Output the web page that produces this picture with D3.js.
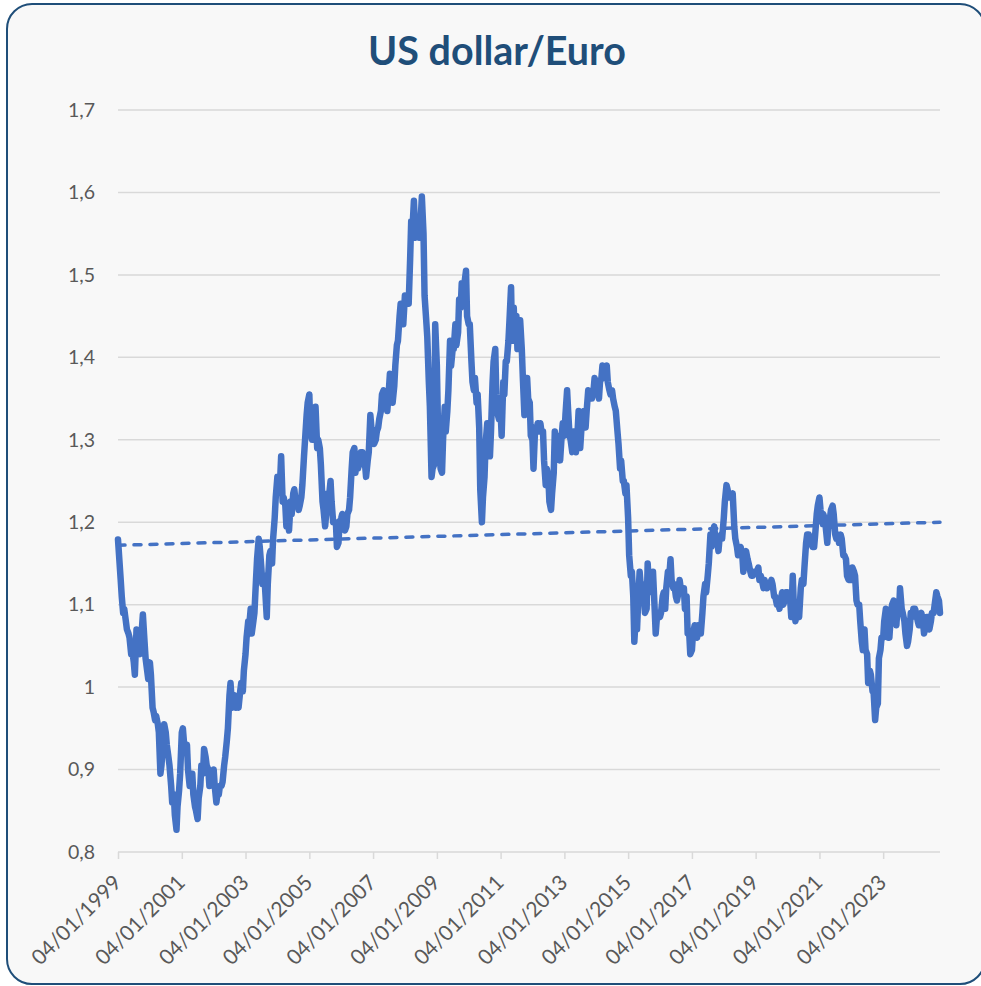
<!DOCTYPE html>
<html>
<head>
<meta charset="utf-8">
<script src="https://cdn.jsdelivr.net/npm/d3@7"></script>
<style>
  html, body { margin: 0; padding: 0; background: #ffffff; }
  svg { display: block; }
</style>
</head>
<body>
<svg id="chart" width="981" height="986"></svg>
<script>
// ---- DATA (USD per EUR, two readings per month: ~4th and ~16th) ----
const title = "US dollar/Euro";
const firstYear = 1999;
const rate = [
  // 1999
  1.179,1.160,1.130,1.110,1.090,1.095,1.080,1.070,1.065,1.060,1.040,1.045,
  1.030,1.015,1.070,1.060,1.050,1.040,1.070,1.088,1.055,1.035,1.020,1.010,
  // 2000
  1.030,1.015,0.975,0.970,0.960,0.965,0.955,0.945,0.895,0.905,0.935,0.955,
  0.945,0.930,0.915,0.905,0.880,0.860,0.870,0.845,0.827,0.855,0.875,0.895,
  // 2001
  0.945,0.950,0.925,0.920,0.930,0.900,0.880,0.895,0.895,0.870,0.855,0.850,
  0.840,0.865,0.880,0.905,0.895,0.925,0.915,0.905,0.900,0.880,0.890,0.895,
  // 2002
  0.900,0.880,0.860,0.870,0.870,0.880,0.880,0.885,0.905,0.915,0.935,0.950,
  0.990,1.005,0.975,0.980,0.990,0.975,0.980,0.975,0.995,1.005,0.995,1.020,
  // 2003
  1.040,1.060,1.080,1.075,1.095,1.065,1.080,1.090,1.130,1.155,1.180,1.170,
  1.145,1.125,1.135,1.120,1.085,1.125,1.160,1.165,1.150,1.180,1.205,1.230,
  // 2004
  1.255,1.245,1.250,1.280,1.225,1.230,1.220,1.195,1.200,1.190,1.225,1.210,
  1.235,1.240,1.220,1.230,1.215,1.220,1.230,1.245,1.280,1.300,1.330,1.345,
  // 2005
  1.355,1.310,1.300,1.300,1.320,1.340,1.290,1.300,1.290,1.270,1.225,1.215,
  1.195,1.210,1.235,1.230,1.250,1.225,1.200,1.200,1.200,1.170,1.175,1.200,
  // 2006
  1.205,1.210,1.205,1.190,1.195,1.210,1.215,1.230,1.265,1.285,1.290,1.260,
  1.280,1.265,1.280,1.285,1.285,1.270,1.270,1.255,1.275,1.285,1.330,1.315,
  // 2007
  1.310,1.295,1.300,1.310,1.315,1.325,1.335,1.355,1.360,1.350,1.350,1.335,
  1.360,1.380,1.370,1.345,1.365,1.390,1.415,1.420,1.450,1.465,1.465,1.440,
  // 2008
  1.475,1.470,1.475,1.465,1.520,1.565,1.565,1.590,1.545,1.550,1.550,1.545,
  1.570,1.595,1.550,1.475,1.445,1.425,1.370,1.340,1.255,1.265,1.270,1.440,
  // 2009
  1.390,1.320,1.280,1.265,1.260,1.300,1.340,1.310,1.335,1.360,1.420,1.390,
  1.410,1.410,1.440,1.415,1.430,1.470,1.460,1.490,1.480,1.490,1.505,1.450,
  // 2010
  1.440,1.440,1.395,1.370,1.360,1.375,1.345,1.355,1.315,1.240,1.200,1.230,
  1.255,1.295,1.320,1.280,1.280,1.310,1.370,1.395,1.410,1.355,1.330,1.325,
  // 2011
  1.335,1.305,1.370,1.355,1.395,1.395,1.420,1.445,1.485,1.420,1.460,1.420,
  1.450,1.410,1.425,1.445,1.410,1.375,1.330,1.375,1.375,1.350,1.345,1.305,
  // 2012
  1.300,1.265,1.315,1.310,1.320,1.310,1.320,1.310,1.310,1.275,1.245,1.265,
  1.255,1.225,1.215,1.235,1.260,1.310,1.295,1.305,1.285,1.275,1.305,1.320,
  // 2013
  1.305,1.330,1.360,1.335,1.305,1.300,1.285,1.310,1.310,1.285,1.310,1.335,
  1.290,1.310,1.325,1.335,1.315,1.335,1.360,1.355,1.350,1.350,1.360,1.375,
  // 2014
  1.365,1.365,1.350,1.370,1.375,1.390,1.375,1.385,1.390,1.370,1.360,1.355,
  1.360,1.350,1.340,1.335,1.310,1.295,1.265,1.275,1.250,1.250,1.235,1.245,
  // 2015
  1.205,1.160,1.135,1.140,1.110,1.055,1.090,1.070,1.115,1.140,1.115,1.125,
  1.110,1.090,1.095,1.150,1.115,1.130,1.120,1.140,1.095,1.065,1.090,1.090,
  // 2016
  1.085,1.090,1.110,1.115,1.095,1.120,1.140,1.130,1.155,1.130,1.120,1.125,
  1.110,1.105,1.115,1.130,1.115,1.120,1.120,1.095,1.110,1.065,1.065,1.040,
  // 2017
  1.045,1.065,1.075,1.065,1.060,1.075,1.065,1.065,1.090,1.110,1.125,1.115,
  1.135,1.150,1.185,1.170,1.190,1.195,1.175,1.180,1.165,1.180,1.185,1.180,
  // 2018
  1.205,1.225,1.245,1.240,1.230,1.235,1.230,1.235,1.195,1.180,1.170,1.160,
  1.165,1.170,1.160,1.140,1.160,1.165,1.155,1.150,1.140,1.135,1.135,1.140,
  // 2019
  1.140,1.140,1.145,1.130,1.135,1.130,1.120,1.130,1.120,1.120,1.125,1.125,
  1.130,1.125,1.110,1.110,1.100,1.105,1.095,1.105,1.115,1.100,1.105,1.115,
  // 2020
  1.115,1.110,1.105,1.085,1.135,1.100,1.080,1.090,1.090,1.085,1.120,1.130,
  1.125,1.145,1.175,1.185,1.185,1.180,1.175,1.170,1.170,1.185,1.210,1.220,
  // 2021
  1.230,1.215,1.200,1.210,1.205,1.195,1.175,1.195,1.205,1.215,1.220,1.210,
  1.185,1.180,1.185,1.175,1.185,1.180,1.160,1.160,1.155,1.135,1.130,1.130,
  // 2022
  1.130,1.145,1.140,1.135,1.105,1.100,1.100,1.080,1.055,1.045,1.070,1.045,
  1.040,1.005,1.020,1.015,0.995,0.995,0.960,0.975,0.980,1.035,1.045,1.060,
  // 2023
  1.060,1.080,1.095,1.070,1.060,1.060,1.090,1.100,1.105,1.085,1.075,1.095,
  1.090,1.120,1.095,1.090,1.080,1.065,1.050,1.055,1.070,1.090,1.085,1.095,
  // 2024 (Jan - Oct)
  1.095,1.090,1.080,1.075,1.085,1.090,1.080,1.065,1.075,1.085,1.085,1.070,
  1.080,1.090,1.090,1.100,1.115,1.110,1.105,1.090
];
// linear trend end values (start, end)
const trend = [1.172, 1.200];
const yTicks = [0.8, 0.9, 1.0, 1.1, 1.2, 1.3, 1.4, 1.5, 1.6, 1.7];
const xTickYears = [1999, 2001, 2003, 2005, 2007, 2009, 2011, 2013, 2015, 2017, 2019, 2021, 2023];

// ---- CHART ----
const svg = d3.select("#chart");
const plot = { left: 118, right: 940, top: 110, bottom: 852 };
const lineColor = "#4472c4";
const textColor = "#595959";
const gridColor = "#d9d9d9";
const font = "Lato, 'Open Sans', sans-serif";

// frame
svg.append("rect")
  .attr("x", 7).attr("y", 4)
  .attr("width", 978).attr("height", 980)
  .attr("rx", 25).attr("ry", 25)
  .attr("fill", "#f8f8f8")
  .attr("stroke", "#1f4e79")
  .attr("stroke-width", 2);

const data = rate.map((v, i) => ({
  date: new Date(firstYear, Math.floor(i / 2), i % 2 ? 16 : 4),
  value: v
}));

const x = d3.scaleTime()
  .domain([data[0].date, data[data.length - 1].date])
  .range([plot.left, plot.right]);
const y = d3.scaleLinear()
  .domain([0.8, 1.7])
  .range([plot.bottom, plot.top]);

// gridlines
svg.append("g")
  .selectAll("line")
  .data(yTicks.filter(t => t > 0.8))
  .join("line")
  .attr("x1", plot.left).attr("x2", plot.right)
  .attr("y1", d => y(d)).attr("y2", d => y(d))
  .attr("stroke", gridColor).attr("stroke-width", 1.5);

// y axis labels
const fmtY = d => d3.format(".1~f")(d).replace(".", ",");
svg.append("g")
  .selectAll("text")
  .data(yTicks)
  .join("text")
  .attr("x", 95)
  .attr("y", d => y(d))
  .attr("dy", "0.35em")
  .attr("text-anchor", "end")
  .attr("font-family", font)
  .attr("font-size", 19.5)
  .attr("fill", textColor)
  .text(fmtY);

// x axis
const xTicks = xTickYears.map(yr => new Date(yr, 0, 4));
const fmtX = d3.timeFormat("%d/%m/%Y");
const xAxis = d3.axisBottom(x)
  .tickValues(xTicks)
  .tickSize(7)
  .tickPadding(6)
  .tickFormat(fmtX)
  .tickSizeOuter(0);
const gx = svg.append("g")
  .attr("transform", `translate(0,${plot.bottom})`)
  .call(xAxis);
gx.select(".domain").attr("stroke", gridColor).attr("stroke-width", 1.5)
  .attr("d", `M${plot.left},0H${plot.right}`);
gx.selectAll(".tick line").attr("stroke", gridColor).attr("stroke-width", 1.5);
gx.selectAll(".tick text")
  .attr("font-family", font)
  .attr("font-size", 21)
  .attr("fill", textColor)
  .attr("text-anchor", "end")
  .attr("x", 0)
  .attr("y", 0)
  .attr("dy", "0")
  .attr("transform", "translate(4,32) rotate(-45)");

// trend line (dashed)
svg.append("line")
  .attr("x1", x(data[0].date)).attr("y1", y(trend[0]))
  .attr("x2", x(data[data.length - 1].date)).attr("y2", y(trend[1]))
  .attr("stroke", lineColor)
  .attr("stroke-width", 3.5)
  .attr("stroke-linecap", "round")
  .attr("stroke-dasharray", "7,9");

// main series
const line = d3.line()
  .x(d => x(d.date))
  .y(d => y(d.value));
svg.append("path")
  .datum(data)
  .attr("d", line)
  .attr("fill", "none")
  .attr("stroke", lineColor)
  .attr("stroke-width", 6.5)
  .attr("stroke-linejoin", "round")
  .attr("stroke-linecap", "round");

// title
const t = svg.append("text")
  .attr("x", 497).attr("y", 65)
  .attr("text-anchor", "middle")
  .attr("font-family", font)
  .attr("font-weight", "bold")
  .attr("font-size", 36)
  .attr("fill", "#1f4e79")
  .text(title);
const tw = t.node().getComputedTextLength();
if (tw > 0) t.attr("font-size", 36 * 258 / tw);
</script>
</body>
</html>
